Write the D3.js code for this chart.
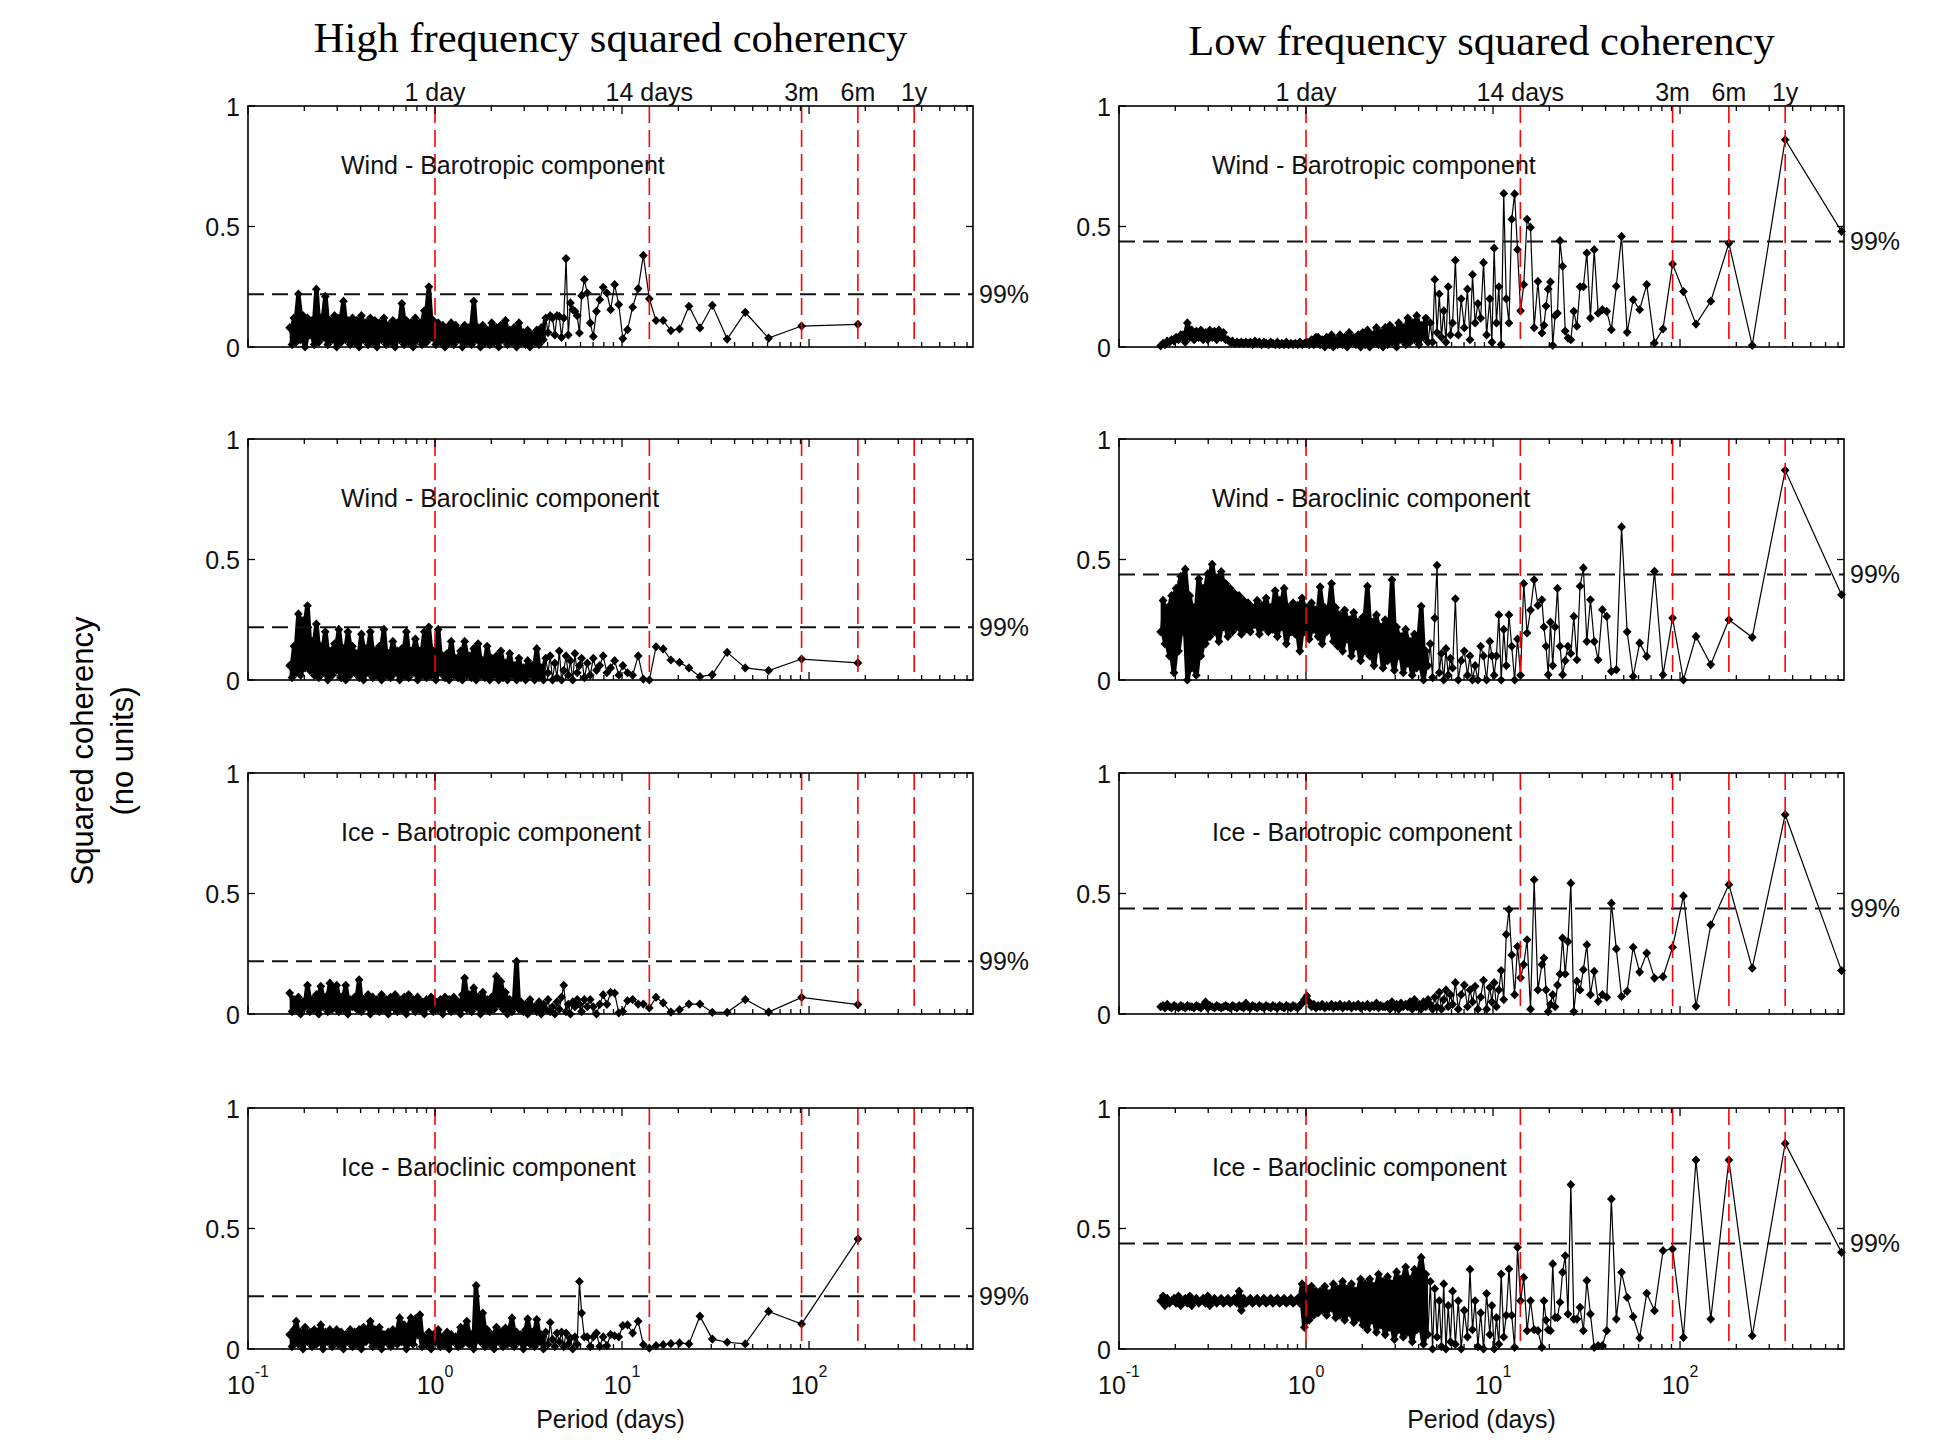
<!DOCTYPE html>
<html lang="en">
<head>
<meta charset="UTF-8">
<title>Squared coherency</title>
<script src="https://cdn.jsdelivr.net/npm/d3@7"></script>
<style>
    body { margin: 0; background: #fff; }
    svg { display: block; }
    .lbl { font-family: "Liberation Sans", Arial, sans-serif; font-size: 25px; fill: #111; }
    .ttl { font-family: "Liberation Serif", "Times New Roman", serif; font-size: 42.5px; fill: #000; }
    .ylab { font-family: "Liberation Sans", Arial, sans-serif; font-size: 31px; fill: #000; }
</style>
</head>
<body>
<svg id="canvas" width="1953" height="1447"></svg>
<script>
// periods (days) shared by the dense part of both columns
const shortPeriods = [
    0.167, 0.172, 0.176, 0.181, 0.186, 0.191, 0.197, 0.202, 0.208, 0.214,
    0.220, 0.226, 0.232, 0.239, 0.245, 0.252, 0.259, 0.267, 0.274, 0.282,
    0.290, 0.298, 0.306, 0.315, 0.324, 0.333, 0.342, 0.352, 0.362, 0.372,
    0.382, 0.393, 0.404, 0.415, 0.427, 0.439, 0.451, 0.464, 0.477, 0.490,
    0.504, 0.518, 0.533, 0.548, 0.563, 0.579, 0.595, 0.612, 0.629, 0.647,
    0.665, 0.684, 0.703, 0.723, 0.743, 0.764, 0.785, 0.807, 0.830, 0.853,
    0.877, 0.902, 0.927, 0.953, 0.980, 1.01, 1.04, 1.07, 1.10, 1.13,
    1.16, 1.19, 1.22, 1.26, 1.29, 1.33, 1.37, 1.40, 1.44, 1.48,
    1.52, 1.57, 1.61, 1.66, 1.70, 1.75, 1.80, 1.85, 1.90, 1.96,
    2.01, 2.07, 2.13, 2.19, 2.25, 2.31, 2.38, 2.44, 2.51, 2.58,
    2.65, 2.73, 2.81, 2.88, 2.97, 3.05, 3.13, 3.22, 3.31, 3.41,
    3.50, 3.60, 3.70, 3.80, 3.91, 4.02, 4.13, 4.25, 4.37, 4.49,
    4.62, 4.75, 4.88, 5.02, 5.16, 5.30, 5.45, 5.60, 5.76, 5.92
];
// high frequency tail (record of 182.5 days)
const hfTailPeriods = [
    6.08, 6.29, 6.52, 6.76, 7.02, 7.30, 7.60, 7.93, 8.30, 8.69,
    9.13, 9.61, 10.1, 10.7, 11.4, 12.2, 13.0, 14.0, 15.2, 16.6,
    18.25, 20.3, 22.8, 26.1, 30.4, 36.5, 45.6, 60.8, 91.25, 182.5
];
// low frequency tail (record of 730 days)
const lfTailPeriods = [
    6.08, 6.29, 6.52, 6.76, 7.02, 7.30, 7.53, 7.77, 8.02, 8.30,
    8.59, 8.90, 9.24, 9.61, 9.86, 10.14, 10.43, 10.74, 11.06, 11.41,
    11.77, 12.17, 12.59, 13.04, 13.52, 14.04, 14.6, 15.21, 15.87, 16.59,
    17.38, 18.25, 18.72, 19.21, 19.73, 20.28, 20.86, 21.47, 22.12, 22.81,
    23.55, 24.33, 25.17, 26.07, 27.04, 28.08, 29.2, 30.42, 31.74, 33.18,
    34.76, 36.5, 38.42, 40.56, 42.94, 45.63, 48.67, 52.14, 56.15, 60.83,
    66.36, 73, 81.11, 91.25, 104.3, 121.7, 146, 182.5, 243.3, 365,
    730
];
const hfPeriods = shortPeriods.concat(hfTailPeriods);
const lfPeriods = shortPeriods.concat(lfTailPeriods);

// high frequency squared coherency
const hfWindBaro = [
    .08,.01,.12,.02,.22,.03,.13,.00,.12,.05,
    .11,.01,.24,.02,.12,.04,.21,.01,.11,.03,
    .13,.00,.12,.02,.19,.03,.11,.01,.12,.02,
    .11,.00,.13,.03,.10,.01,.12,.02,.11,.00,
    .10,.03,.12,.01,.09,.02,.11,.00,.10,.03,
    .18,.01,.11,.02,.10,.00,.12,.03,.10,.01,
    .15,.02,.25,.04,.11,.01,.10,.02,.09,.00,
    .08,.02,.10,.01,.09,.03,.07,.00,.09,.02,
    .08,.01,.19,.03,.08,.00,.09,.02,.07,.01,
    .10,.02,.08,.00,.09,.03,.11,.01,.07,.02,
    .08,.00,.10,.02,.06,.01,.07,.00,.05,.02,
    .07,.01,.08,.03,.12,.06,.13,.12,.05,.13,
    .127,.04,.12,.367,.05,.183,.155,.148,.13,.058,
    .213,.28,.224,.1,.044,.148,.196,.248,.224,.155,
    .259,.176,.035,.072,.165,.242,.38,.2,.11,.11,
    .068,.075,.169,.079,.173,.033,.144,.037,.087,.094
];
const hfWindClin = [
    .06,.01,.14,.03,.274,.02,.246,.05,.308,.04,
    .16,.02,.232,.01,.14,.03,.2,.00,.12,.02,
    .15,.04,.21,.01,.13,.00,.2,.02,.14,.03,
    .11,.01,.19,.00,.13,.03,.2,.01,.12,.02,
    .14,.00,.21,.02,.11,.01,.16,.03,.12,.00,
    .13,.02,.2,.01,.12,.03,.17,.00,.12,.02,
    .2,.01,.22,.02,.12,.00,.21,.03,.1,.01,
    .11,.00,.16,.02,.09,.01,.12,.00,.16,.02,
    .1,.01,.13,.00,.15,.02,.08,.01,.14,.00,
    .09,.02,.1,.00,.12,.01,.07,.00,.11,.02,
    .06,.00,.09,.01,.05,.00,.08,.02,.06,.00,
    .13,.01,.05,.00,.09,.03,.1,.00,.07,.01,
    .12,.00,.04,.1,.02,.08,.00,.11,.03,.06,
    .09,.01,.07,.02,.09,.04,.06,.1,.03,.05,
    .08,.02,.06,.03,.02,.1,.004,.0,.138,.129,
    .083,.073,.05,.014,.022,.115,.05,.039,.087,.071
];
const hfIceBaro = [
    .087,.01,.06,.02,.07,.00,.05,.03,.119,.01,
    .06,.02,.08,.00,.115,.03,.07,.01,.128,.02,
    .06,.119,.01,.07,.02,.119,.00,.06,.03,.07,
    .02,.142,.01,.06,.03,.08,.00,.07,.02,.06,
    .01,.08,.02,.06,.00,.07,.03,.08,.01,.06,
    .02,.07,.00,.08,.03,.06,.01,.07,.02,.05,
    .00,.06,.03,.07,.01,.05,.02,.06,.00,.07,
    .03,.06,.01,.07,.02,.05,.00,.08,.149,.02,
    .08,.01,.108,.03,.07,.00,.09,.02,.06,.01,
    .07,.02,.156,.04,.135,.02,.09,.00,.06,.01,
    .03,.218,.02,.05,.01,.04,.00,.06,.02,.03,
    .01,.05,.00,.04,.02,.06,.01,.03,.00,.05,
    .02,.07,.119,.01,.04,.00,.05,.03,.06,.04,
    .01,.06,.03,.06,.03,.00,.04,.08,.04,.09,
    .087,.005,.01,.055,.06,.041,.041,.025,.069,.046,
    .008,.018,.041,.041,.007,.007,.06,.008,.069,.039
];
const hfIceClin = [
    .06,.01,.08,.115,.02,.07,.00,.09,.03,.07,
    .01,.08,.02,.06,.1,.00,.07,.03,.08,.01,
    .06,.08,.02,.07,.00,.06,.03,.08,.01,.07,
    .02,.08,.00,.09,.03,.07,.115,.01,.08,.02,
    .09,.00,.06,.03,.07,.01,.08,.05,.02,.129,
    .03,.1,.00,.09,.129,.02,.125,.06,.142,.01,
    .05,.02,.07,.00,.06,.03,.08,.01,.05,.02,
    .07,.00,.06,.03,.05,.01,.09,.02,.07,.115,
    .02,.06,.00,.263,.07,.03,.149,.01,.08,.02,
    .06,.00,.09,.03,.07,.01,.087,.02,.05,.129,
    .01,.07,.03,.06,.00,.08,.125,.02,.07,.01,
    .122,.03,.06,.00,.07,.02,.11,.04,.01,.066,
    .03,.07,.01,.066,.02,.046,.00,.05,.02,.28,
    .149,.05,.05,.01,.05,.066,.011,.05,.014,.06,
    .055,.05,.097,.1,.066,.115,.018,.004,.014,.018,
    .022,.025,.021,.136,.041,.028,.021,.156,.104,.456
];

// low frequency squared coherency
const lfWindBaro = [
    .005,.015,.01,.025,.02,.03,.025,.04,.03,.05,
    .05,.02,.1,.04,.07,.03,.065,.04,.07,.03,
    .06,.03,.07,.04,.065,.03,.07,.04,.06,.03,
    .03,.02,.025,.015,.02,.015,.02,.015,.02,.015,
    .02,.01,.025,.015,.02,.01,.02,.015,.01,.02,
    .015,.01,.02,.01,.015,.01,.02,.01,.015,.01,
    .015,.01,.02,.01,.015,.02,.01,.03,.01,.04,
    .04,.01,.03,.00,.04,.01,.05,.00,.03,.01,
    .05,.01,.04,.00,.06,.02,.04,.01,.05,.00,
    .06,.01,.07,.00,.05,.02,.08,.01,.06,.00,
    .08,.01,.09,.02,.07,.00,.1,.03,.08,.01,
    .12,.02,.1,.03,.13,.01,.09,.04,.12,.02,
    .1,.02,.28,.06,.22,.04,.15,.02,.25,.05,
    .1,.36,.05,.2,.08,.24,.03,.3,.1,.18,
    .12,.35,.05,.2,.02,.41,.1,.25,.01,.637,
    .2,.1,.53,.635,.404,.15,.259,.53,.496,.08,
    .272,.058,.09,.17,.24,.27,.007,.13,.14,.441,
    .335,.066,.037,.03,.148,.086,.25,.25,.39,.12,
    .404,.14,.155,.148,.072,.252,.459,.061,.196,.155,
    .259,.017,.075,.344,.23,.095,.19,.43,.007,.86,
    .48
];
const lfWindClin = [
    .2,.33,.15,.3,.1,.35,.03,.38,.12,.43,
    .2,.46,.0,.35,.05,.3,.02,.42,.1,.38,
    .15,.44,.18,.48,.2,.42,.16,.45,.22,.4,
    .18,.38,.2,.36,.22,.35,.19,.33,.21,.32,
    .2,.3,.23,.33,.19,.31,.22,.34,.2,.3,
    .21,.37,.18,.33,.22,.38,.15,.3,.2,.32,
    .19,.31,.12,.34,.2,.3,.17,.32,.21,.29,
    .18,.386,.15,.3,.2,.28,.4,.16,.3,.14,
    .27,.12,.29,.17,.25,.1,.28,.14,.24,.08,
    .26,.12,.389,.1,.24,.06,.27,.13,.22,.05,
    .25,.08,.2,.416,.04,.22,.1,.18,.03,.21,
    .07,.16,.02,.19,.05,.14,.306,.0,.12,.06,
    .15,.01,.257,.476,.03,.11,.0,.13,.02,.09,
    .05,.337,.0,.08,.12,.02,.1,.0,.06,.0,
    .14,.1,.0,.16,.1,.02,.1,.27,.0,.21,
    .06,.27,.14,.0,.17,.02,.4,.195,.29,.416,
    .31,.333,.22,.14,.022,.24,.06,.22,.38,.14,
    .022,.08,.14,.11,.264,.084,.389,.465,.16,.333,
    .16,.084,.292,.264,.036,.043,.635,.2,.015,.154,
    .098,.451,.022,.257,.0,.181,.064,.25,.177,.87,
    .354
];
const lfIceBaro = [
    .03,.035,.025,.04,.03,.025,.035,.03,.025,.035,
    .03,.025,.035,.03,.03,.025,.035,.03,.025,.035,
    .05,.025,.035,.03,.025,.035,.03,.025,.03,.035,
    .03,.025,.035,.03,.025,.035,.03,.025,.045,.03,
    .025,.035,.03,.025,.035,.03,.025,.035,.03,.025,
    .035,.03,.025,.035,.03,.025,.035,.03,.025,.035,
    .03,.025,.035,.045,.06,.075,.05,.03,.04,.025,
    .035,.03,.04,.025,.035,.03,.04,.025,.035,.03,
    .04,.025,.035,.03,.04,.025,.035,.03,.04,.025,
    .035,.03,.04,.025,.035,.03,.045,.025,.035,.03,
    .03,.04,.02,.05,.03,.04,.02,.045,.03,.04,
    .03,.05,.02,.06,.03,.04,.02,.05,.03,.06,
    .04,.02,.07,.03,.09,.02,.06,.1,.03,.08,
    .04,.13,.02,.08,.12,.03,.1,.05,.115,.02,
    .07,.14,.02,.11,.05,.13,.03,.1,.18,.06,
    .33,.433,.245,.08,.28,.15,.205,.308,.02,.557,
    .1,.205,.232,.1,.01,.04,.08,.03,.12,.166,
    .315,.166,.30,.543,.01,.136,.10,.184,.287,.08,
    .177,.052,.08,.07,.46,.27,.073,.094,.277,.174,
    .253,.149,.155,.277,.49,.032,.37,.537,.19,.827,
    .18
];
const lfIceClin = [
    .2,.22,.18,.21,.19,.2,.21,.19,.22,.18,
    .2,.21,.19,.22,.18,.2,.21,.19,.2,.21,
    .19,.22,.18,.2,.21,.19,.2,.21,.19,.2,
    .21,.19,.2,.21,.19,.24,.16,.21,.19,.2,
    .21,.19,.2,.21,.19,.2,.21,.19,.2,.21,
    .19,.2,.21,.19,.2,.21,.19,.2,.21,.19,
    .2,.21,.19,.27,.09,.25,.12,.26,.14,.24,
    .15,.24,.16,.26,.14,.23,.17,.27,.13,.25,
    .14,.28,.12,.25,.15,.27,.11,.24,.13,.29,
    .1,.27,.08,.29,.12,.26,.07,.31,.1,.28,
    .06,.3,.09,.27,.04,.32,.08,.29,.05,.34,
    .07,.29,.03,.33,.08,.27,.38,.02,.31,.06,
    .28,.0,.25,.05,.2,.01,.27,.0,.18,.03,
    .24,.02,.2,.0,.16,.05,.33,.08,.2,.01,
    .15,.0,.23,.06,.18,.0,.13,.02,.311,.05,
    .14,.332,.14,.007,.422,.2,.297,.076,.2,.08,
    .076,.007,.2,.12,.08,.076,.353,.131,.13,.194,
    .318,.387,.145,.682,.124,.124,.173,.076,.284,.145,
    .007,.014,.014,.076,.622,.124,.318,.214,.134,.046,
    .231,.159,.408,.415,.048,.784,.124,.784,.055,.853,
    .401
];

const columnTitles = ["High frequency squared coherency", "Low frequency squared coherency"];
const panelNames = ["Wind - Barotropic component", "Wind - Baroclinic component",
                    "Ice - Barotropic component", "Ice - Baroclinic component"];
const markPeriods = [1, 14, 91.25, 182.5, 365];
const markLabels = ["1 day", "14 days", "3m", "6m", "1y"];
const sigLevels = [0.219, 0.438];     // 99% level, high / low frequency
const denseLimit = [4.0, 4.5];        // where the estimates merge into a solid mass
const yTicks = [0, 0.5, 1];
const xDomain = [0.1, 753];

// layout
const svg = d3.select('#canvas');
const W = 725, H = 241;
const colLeft = [248, 1119];
const rowTop = [106, 439, 773, 1108];
const titleY = [52, 55];

const x = d3.scaleLog().domain(xDomain).range([0, W]);
const y = d3.scaleLinear().domain([0, 1]).range([H, 0]);
const isDecade = t => Math.abs(Math.log10(t) - Math.round(Math.log10(t))) < 1e-9;

const columns = [
    {periods: hfPeriods, series: [hfWindBaro, hfWindClin, hfIceBaro, hfIceClin]},
    {periods: lfPeriods, series: [lfWindBaro, lfWindClin, lfIceBaro, lfIceClin]}
];

const line = d3.line().x(d => x(d.p)).y(d => y(d.v));
const band = d3.area().x(d => x(d.p)).y0(d => y(d.lo)).y1(d => y(d.hi));
const diamond = 'M0,-4.6L4.4,0L0,4.6L-4.4,0Z';

columns.forEach((col, ci) => {
    svg.append('text').attr('class', 'ttl')
        .attr('x', colLeft[ci] + W / 2).attr('y', titleY[ci])
        .attr('text-anchor', 'middle').text(columnTitles[ci]);

    col.series.forEach((vals, ri) => {
        const g = svg.append('g').attr('transform', `translate(${colLeft[ci]},${rowTop[ri]})`);
        const pts = col.periods.map((p, i) => ({p: p, v: vals[i]})).filter(d => d.v != null);

        // the closely packed estimates blacken the whole range they swing through
        const dense = pts.filter(d => d.p <= denseLimit[ci]);
        const env = dense.map((d, i) => {
            const nb = dense.slice(Math.max(0, i - 1), i + 2).map(e => e.v);
            return {p: d.p, lo: d3.min(nb), hi: d3.max(nb)};
        });
        g.append('path').datum(env).attr('d', band).attr('fill', '#000');

        // coherency curve
        g.append('path').datum(pts)
            .attr('d', line)
            .attr('fill', 'none').attr('stroke', '#000').attr('stroke-width', 1.2);
        g.selectAll('path.mk').data(pts).join('path')
            .attr('class', 'mk')
            .attr('d', diamond)
            .attr('transform', d => `translate(${x(d.p)},${y(d.v)})`)
            .attr('fill', '#000');

        // 99% significance
        g.append('line')
            .attr('x1', 0).attr('x2', W)
            .attr('y1', y(sigLevels[ci])).attr('y2', y(sigLevels[ci]))
            .attr('stroke', '#111').attr('stroke-width', 2).attr('stroke-dasharray', '16,8');
        g.append('text').attr('class', 'lbl')
            .attr('x', W + 6).attr('y', y(sigLevels[ci]) + 9).text('99%');

        // reference periods
        g.selectAll('line.mark').data(markPeriods).join('line')
            .attr('class', 'mark')
            .attr('x1', d => x(d)).attr('x2', d => x(d))
            .attr('y1', 0).attr('y2', H)
            .attr('stroke', '#ff0000').attr('stroke-width', 1.6).attr('stroke-dasharray', '17,7');

        // box
        g.append('rect').attr('width', W).attr('height', H)
            .attr('fill', 'none').attr('stroke', '#000').attr('stroke-width', 1.6);

        // x ticks, top and bottom, pointing inward
        const xt = x.ticks();
        g.selectAll('line.xtb').data(xt).join('line')
            .attr('class', 'xtb')
            .attr('x1', d => x(d)).attr('x2', d => x(d))
            .attr('y1', H).attr('y2', d => H - (isDecade(d) ? 8 : 5))
            .attr('stroke', '#000').attr('stroke-width', 1.3);
        g.selectAll('line.xtt').data(xt).join('line')
            .attr('class', 'xtt')
            .attr('x1', d => x(d)).attr('x2', d => x(d))
            .attr('y1', 0).attr('y2', d => isDecade(d) ? 8 : 5)
            .attr('stroke', '#000').attr('stroke-width', 1.3);

        // y ticks on both sides
        g.selectAll('line.ytl').data(yTicks).join('line')
            .attr('class', 'ytl')
            .attr('x1', 0).attr('x2', 7)
            .attr('y1', d => y(d)).attr('y2', d => y(d))
            .attr('stroke', '#000').attr('stroke-width', 1.3);
        g.selectAll('line.ytr').data(yTicks).join('line')
            .attr('class', 'ytr')
            .attr('x1', W - 7).attr('x2', W)
            .attr('y1', d => y(d)).attr('y2', d => y(d))
            .attr('stroke', '#000').attr('stroke-width', 1.3);
        g.selectAll('text.yl').data(yTicks).join('text')
            .attr('class', 'lbl yl')
            .attr('x', -8).attr('y', d => y(d) + 9.5)
            .attr('text-anchor', 'end')
            .text(d => d3.format('~g')(d));

        // panel name
        g.append('text').attr('class', 'lbl')
            .attr('x', 93).attr('y', 68).text(panelNames[ri]);

        // period labels above the first row
        if (ri === 0) {
            g.selectAll('text.ml').data(markPeriods).join('text')
                .attr('class', 'lbl ml')
                .attr('x', d => x(d)).attr('y', -5)
                .attr('text-anchor', 'middle')
                .text((d, i) => markLabels[i]);
        }

        // decade labels and axis title under the last row
        if (ri === col.series.length - 1) {
            const dec = xt.filter(isDecade);
            const lab = g.selectAll('text.xl').data(dec).join('text')
                .attr('class', 'lbl xl')
                .attr('x', d => x(d)).attr('y', H + 45)
                .attr('text-anchor', 'middle');
            lab.append('tspan').text('10');
            lab.append('tspan')
                .attr('dy', -17).attr('font-size', '16px')
                .text(d => Math.round(Math.log10(d)));
            g.append('text').attr('class', 'lbl')
                .attr('x', W / 2).attr('y', H + 79)
                .attr('text-anchor', 'middle').text('Period (days)');
        }
    });
});

// shared y axis title
const yl = svg.append('g').attr('transform', 'translate(0,751)');
yl.append('text').attr('class', 'ylab')
    .attr('transform', 'translate(93,0) rotate(-90)')
    .attr('text-anchor', 'middle').text('Squared coherency');
yl.append('text').attr('class', 'ylab')
    .attr('transform', 'translate(133,0) rotate(-90)')
    .attr('text-anchor', 'middle').text('(no units)');
</script>
</body>
</html>
